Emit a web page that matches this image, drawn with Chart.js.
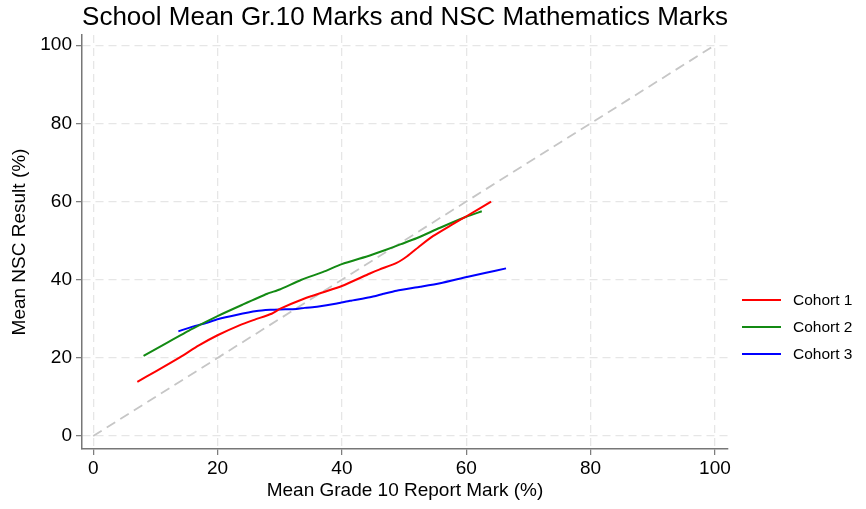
<!DOCTYPE html>
<html>
<head>
<meta charset="utf-8">
<title>School Mean Gr.10 Marks and NSC Mathematics Marks</title>
<script src="https://cdn.jsdelivr.net/npm/chart.js@4.4.1/dist/chart.umd.min.js"></script>
<style>
  html, body { margin: 0; padding: 0; background: #fff; }
</style>
</head>
<body>
<canvas id="marksChart" width="866" height="509"></canvas>
<script>
const cohortNames = ["Cohort 1", "Cohort 2", "Cohort 3"];
const cohortColors = ["#ff0000", "#138a13", "#0000ff"];

// mean grade 10 mark (x) against mean NSC result (y), per cohort
const cohort1Grade10 = [7.1, 10, 14, 17, 20, 23.6, 26, 28.7, 30.1, 34, 37, 40, 44.5, 46, 48.8, 50.5, 52.6, 54.7, 57.5, 60.1, 64];
const cohort1Nsc = [13.9, 16.5, 20.2, 23.2, 25.8, 28.4, 29.8, 31.3, 32.6, 35.2, 36.8, 38.4, 41.6, 42.6, 44.3, 46.0, 48.7, 51.2, 53.9, 56.3, 60.0];

const cohort2Grade10 = [8.1, 12, 16, 20, 24, 28, 30, 33.5, 37, 40, 44.5, 47, 49.5, 52, 55.8, 60, 62.5];
const cohort2Nsc = [20.5, 24.0, 27.5, 30.7, 33.6, 36.4, 37.5, 40.0, 42.0, 44.0, 46.2, 47.6, 49.1, 50.6, 53.3, 56.1, 57.5];

const cohort3Grade10 = [13.7, 16, 18.3, 20, 23, 26.3, 28.5, 30, 32.7, 34, 36, 39.2, 41.3, 44.5, 46.7, 48.8, 52.6, 55.8, 60.1, 63, 66.4];
const cohort3Nsc = [26.8, 28.0, 29.0, 29.9, 31.0, 32.0, 32.3, 32.4, 32.5, 32.8, 33.1, 33.9, 34.6, 35.5, 36.4, 37.2, 38.2, 39.1, 40.7, 41.7, 42.9];

const equalityLine = [0, 100];
const axisTicks = [0, 20, 40, 60, 80, 100];

const fontFamily = "'Liberation Sans', Arial, sans-serif";

function toPoints(xs, ys) {
    return xs.map((x, i) => ({x: x, y: ys[i]}));
}

function cohortDataset(i, xs, ys) {
    return {
        label: cohortNames[i],
        data: toPoints(xs, ys),
        borderColor: cohortColors[i],
        borderWidth: 2,
        pointRadius: 0,
        tension: 0.2,
        fill: false
    };
}

function fixedTicks(scale) {
    scale.ticks = axisTicks.map(v => ({value: v}));
}

// legend sits to the right of the plot, one line sample per cohort
const sideLegend = {
    id: "sideLegend",
    afterDraw(chart) {
        const ctx = chart.ctx;
        const left = chart.chartArea.right + 14;
        ctx.save();
        ctx.font = "15.5px " + fontFamily;
        ctx.textBaseline = "middle";
        ctx.fillStyle = "#000";
        chart.data.datasets.forEach((ds, i) => {
            if (!ds.label) return;
            const y = chart.chartArea.top + 265 + i * 27;
            ctx.strokeStyle = ds.borderColor;
            ctx.lineWidth = 2;
            ctx.beginPath();
            ctx.moveTo(left, y);
            ctx.lineTo(left + 39, y);
            ctx.stroke();
            ctx.fillText(ds.label, left + 51, y + 1);
        });
        ctx.restore();
    }
};

const ctx = document.getElementById("marksChart").getContext("2d");
new Chart(ctx, {
    type: "line",
    data: {
        datasets: [
            cohortDataset(0, cohort1Grade10, cohort1Nsc),
            cohortDataset(1, cohort2Grade10, cohort2Nsc),
            cohortDataset(2, cohort3Grade10, cohort3Nsc),
            {
                label: "",
                data: toPoints(equalityLine, equalityLine),
                borderColor: "#c6c6c6",
                borderWidth: 1.8,
                borderDash: [10, 6],
                pointRadius: 0,
                fill: false
            }
        ]
    },
    options: {
        responsive: false,
        animation: false,
        layout: {padding: {top: 0, right: 138, bottom: 0, left: 0}},
        plugins: {
            legend: {display: false},
            tooltip: {enabled: false},
            title: {
                display: true,
                text: "School Mean Gr.10 Marks and NSC Mathematics Marks",
                fullSize: false,
                color: "#000",
                font: {family: fontFamily, size: 26, weight: "normal", lineHeight: 1.2},
                padding: {top: 2, bottom: 1.8}
            }
        },
        scales: {
            x: {
                type: "linear",
                min: -1.8,
                max: 102.1,
                afterBuildTicks: fixedTicks,
                afterFit(scale) { scale.height = 60; },
                grid: {
                    color: "#e6e6e6",
                    lineWidth: 1.3,
                    tickLength: 6,
                    tickColor: "#777",
                    tickBorderDash: [],
                    tickWidth: 1.2
                },
                border: {display: true, color: "#777", width: 1.5, dash: [8, 5]},
                ticks: {
                    color: "#000",
                    padding: 2,
                    font: {family: fontFamily, size: 19},
                    callback: v => v
                },
                title: {
                    display: true,
                    text: "Mean Grade 10 Report Mark (%)",
                    color: "#000",
                    font: {family: fontFamily, size: 19, lineHeight: 1.2},
                    padding: {top: 0, bottom: 6.4}
                }
            },
            y: {
                type: "linear",
                min: -3.3,
                max: 102.6,
                afterBuildTicks: fixedTicks,
                afterFit(scale) { scale.width = 82; },
                grid: {
                    color: "#e6e6e6",
                    lineWidth: 1.3,
                    tickLength: 6,
                    tickColor: "#777",
                    tickBorderDash: [],
                    tickWidth: 1.2
                },
                border: {display: true, color: "#777", width: 1.5, dash: [8, 5]},
                ticks: {
                    color: "#000",
                    padding: 4,
                    font: {family: fontFamily, size: 19},
                    callback: v => v
                },
                title: {
                    display: true,
                    text: "Mean NSC Result (%)",
                    color: "#000",
                    font: {family: fontFamily, size: 19, lineHeight: 1.2},
                    padding: {top: 8.4, bottom: 0}
                }
            }
        }
    },
    plugins: [sideLegend]
});
</script>
</body>
</html>
